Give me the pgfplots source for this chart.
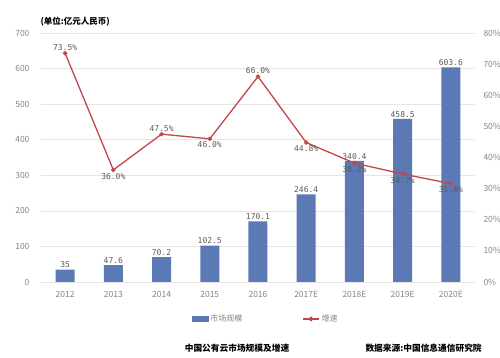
\documentclass[border=0pt]{standalone}
\usepackage{pgfplots}
\pgfplotsset{compat=1.18}
\usepackage{fontspec}
\setmainfont{Noto Sans CJK SC}
\newfontfamily\numfont{DejaVu Sans Mono}
\definecolor{barblue}{HTML}{5B79B4}
\definecolor{linered}{HTML}{C0474C}
\definecolor{tickgray}{HTML}{858585}
\definecolor{labgray}{HTML}{5A5A5A}
\begin{document}
\begin{tikzpicture}
\useasboundingbox (0,0) rectangle (500pt,358pt);
\begin{axis}[
  at={(41pt,76pt)}, anchor=south west, scale only axis,
  width=434pt, height=249pt,
  xmin=-0.5, xmax=8.5, ymin=0, ymax=700,
  ytick={0,100,...,700},
  xtick={0,...,8},
  xticklabels={2012,2013,2014,2015,2016,2017E,2018E,2019E,2020E},
  axis line style={draw=none}, major tick length=0pt,
  ymajorgrids, grid style={draw=black!10, line width=0.6pt},
  tick label style={font=\fontsize{8.5}{9}\selectfont, text=tickgray},
  /pgf/number format/assume math mode=true,
  yticklabel style={xshift=-8pt},
  xticklabel style={yshift=-6pt},
  ybar, bar width=19pt,
  point meta=explicit symbolic,
  nodes near coords,
  nodes near coords style={font=\numfont\fontsize{8}{8}\selectfont, text=labgray, inner sep=1.5pt},
]
\addplot[fill=barblue, draw=none] coordinates {
 (0,35) [35] (1,47.6) [47.6] (2,70.2) [70.2] (3,102.5) [102.5] (4,170.1) [170.1]
 (5,246.4) [246.4] (6,340.4) [340.4] (7,458.5) [458.5] (8,603.6) [603.6]};
\end{axis}
\begin{axis}[
  at={(41pt,76pt)}, anchor=south west, scale only axis,
  width=434pt, height=249pt,
  xmin=-0.5, xmax=8.5, ymin=0, ymax=80,
  ytick={0,10,...,80},
  yticklabel={\pgfmathprintnumber{\tick}\%},
  xtick=\empty,
  axis y line*=right, axis x line=none,
  axis line style={draw=none}, major tick length=0pt,
  tick label style={font=\fontsize{8.5}{9}\selectfont, text=tickgray},
  /pgf/number format/assume math mode=true,
  yticklabel style={xshift=5pt},
  point meta=explicit symbolic,
  legend columns=2,
  legend style={at={(0.518,-0.149)}, anchor=center, draw=none, fill=none,
    font=\fontsize{8}{9}\selectfont, text=tickgray,
    /tikz/every even column/.append style={column sep=58pt}},
]
\addlegendimage{legend image code/.code={\fill[barblue] (0pt,-2.5pt) rectangle (16pt,2.5pt);}}
\addlegendentry{市场规模}
\addplot[linered, line width=1.3pt, mark=*, mark size=1.5pt,
  legend image code/.code={\draw[linered, line width=1.3pt] (0pt,0pt) -- (16pt,0pt); \fill[linered] (8pt,0pt) circle (1.7pt);}]
 coordinates {(0,73.5) (1,36.0) (2,47.5) (3,46.0) (4,66.0) (5,44.8) (6,38.2) (7,34.7) (8,31.6)};
\addlegendentry{增速}
\addplot[draw=none, mark=none, nodes near coords, nodes near coords align={above},
  nodes near coords style={font=\numfont\fontsize{8}{8}\selectfont, text=labgray, inner sep=2.5pt}, forget plot]
 coordinates {(0,73.5) [73.5\%] (2,47.5) [47.5\%] (4,66.0) [66.0\%]};
\addplot[draw=none, mark=none, nodes near coords, nodes near coords align={below},
  nodes near coords style={font=\numfont\fontsize{8}{8}\selectfont, text=labgray, inner sep=3pt}, forget plot]
 coordinates {(1,36.0) [36.0\%] (3,46.0) [46.0\%] (5,44.8) [44.8\%] (6,38.2) [38.2\%] (7,34.7) [34.7\%] (8,31.6) [31.6\%]};
\end{axis}
\node[font=\fontsize{8.5}{10}\selectfont\bfseries, anchor=west] at (37pt,336pt) {(单位:亿元人民币)};
\node[font=\fontsize{8.7}{10}\selectfont\bfseries] at (237pt,10pt) {中国公有云市场规模及增速};
\node[font=\fontsize{8.7}{10}\selectfont\bfseries, anchor=west] at (362pt,10pt) {数据来源:中国信息通信研究院};
\end{tikzpicture}
\end{document}
